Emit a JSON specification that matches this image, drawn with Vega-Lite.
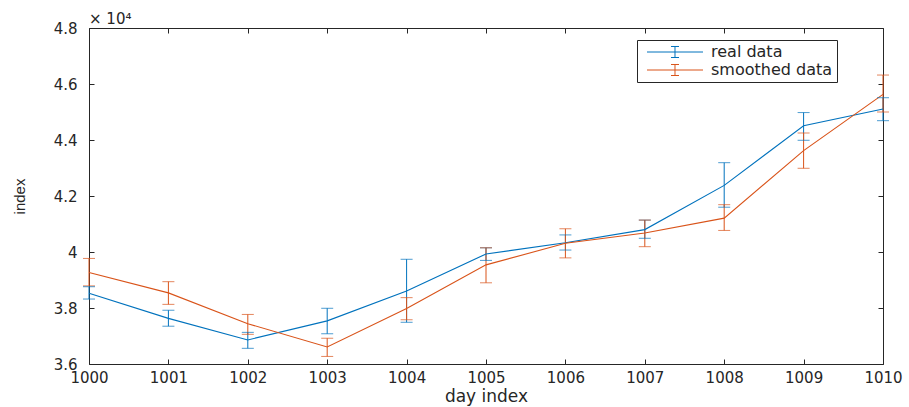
{
  "$schema": "https://vega.github.io/schema/vega-lite/v6.json",
  "autosize": "none",
  "padding": {"left": 89, "top": 28, "right": 26, "bottom": 43},
  "width": 794,
  "height": 336,
  "background": "white",
  "title": {"text": "× 10⁴", "anchor": "start", "frame": "group", "offset": -6, "fontSize": 15, "font": "DejaVu Sans", "fontWeight": "normal", "color": "#262626"},
  "config": {
    "view": {"stroke": null},
    "axis": {"domainColor": "#262626", "tickColor": "#262626", "labelColor": "#262626", "titleColor": "#262626", "grid": false, "domainWidth": 1, "tickWidth": 1, "labelFlush": false, "labelOverlap": false}
  },
  "data": {"values": [
    {"day": 1000, "series": "real data", "value": 38525, "lo": 38320, "hi": 38760},
    {"day": 1001, "series": "real data", "value": 37630, "lo": 37350, "hi": 37920},
    {"day": 1002, "series": "real data", "value": 36860, "lo": 36560, "hi": 37130},
    {"day": 1003, "series": "real data", "value": 37540, "lo": 37080, "hi": 37990},
    {"day": 1004, "series": "real data", "value": 38610, "lo": 37490, "hi": 39740},
    {"day": 1005, "series": "real data", "value": 39930, "lo": 39700, "hi": 40150},
    {"day": 1006, "series": "real data", "value": 40330, "lo": 40070, "hi": 40610},
    {"day": 1007, "series": "real data", "value": 40800, "lo": 40490, "hi": 41140},
    {"day": 1008, "series": "real data", "value": 42380, "lo": 41600, "hi": 43190},
    {"day": 1009, "series": "real data", "value": 44510, "lo": 43990, "hi": 44980},
    {"day": 1010, "series": "real data", "value": 45110, "lo": 44690, "hi": 45510},
    {"day": 1000, "series": "smoothed data", "value": 39270, "lo": 38790, "hi": 39770},
    {"day": 1001, "series": "smoothed data", "value": 38540, "lo": 38130, "hi": 38940},
    {"day": 1002, "series": "smoothed data", "value": 37440, "lo": 37060, "hi": 37770},
    {"day": 1003, "series": "smoothed data", "value": 36610, "lo": 36270, "hi": 36920},
    {"day": 1004, "series": "smoothed data", "value": 37980, "lo": 37580, "hi": 38370},
    {"day": 1005, "series": "smoothed data", "value": 39540, "lo": 38900, "hi": 40150},
    {"day": 1006, "series": "smoothed data", "value": 40310, "lo": 39790, "hi": 40830},
    {"day": 1007, "series": "smoothed data", "value": 40680, "lo": 40190, "hi": 41140},
    {"day": 1008, "series": "smoothed data", "value": 41210, "lo": 40770, "hi": 41690},
    {"day": 1009, "series": "smoothed data", "value": 43620, "lo": 42990, "hi": 44250},
    {"day": 1010, "series": "smoothed data", "value": 45630, "lo": 45000, "hi": 46320}
  ]},
  "resolve": {"axis": {"x": "independent", "y": "independent"}},
  "layer": [
    {
      "mark": {"type": "rule", "strokeWidth": 1},
      "encoding": {
        "x": {"field": "day", "type": "quantitative", "scale": {"domain": [1000, 1010], "nice": false, "zero": false},
              "axis": {"orient": "bottom", "values": [1000,1001,1002,1003,1004,1005,1006,1007,1008,1009,1010], "format": "d", "tickSize": -5, "labelPadding": 11, "labelFont": "DejaVu Sans", "labelFontSize": 15, "title": "day index", "titleFont": "DejaVu Sans", "titleFontSize": 17, "titleFontWeight": "normal", "titlePadding": 3}},
        "y": {"field": "lo", "type": "quantitative", "scale": {"domain": [36000, 48000], "nice": false, "zero": false},
              "axis": {"orient": "left", "values": [36000,38000,40000,42000,44000,46000,48000], "labelExpr": "'' + datum.value/10000", "tickSize": -5, "labelPadding": 17, "labelFont": "DejaVu Sans", "labelFontSize": 15, "title": "index", "titleFont": "Liberation Sans", "titleFontSize": 15, "titleFontWeight": "normal", "titlePadding": 26}},
        "y2": {"field": "hi"},
        "stroke": {"field": "series", "type": "nominal", "scale": {"domain": ["real data", "smoothed data"], "range": ["#0072BD", "#D95319"]},
                   "legend": {"title": null, "orient": "none", "direction": "vertical", "legendX": 548, "legendY": 12, "fillColor": "white", "strokeColor": "#262626", "padding": 4, "rowPadding": 2, "labelOffset": 54, "labelFont": "DejaVu Sans", "labelFontSize": 16, "labelColor": "#262626", "symbolType": "M-0.333,0H9M4.333,-0.917V0.917M3.667,-0.917H5M3.667,0.917H5", "symbolSize": 144, "symbolStrokeWidth": 1}}
      }
    },
    {
      "mark": {"type": "line", "strokeWidth": 1.1},
      "encoding": {
        "x": {"field": "day", "type": "quantitative",
              "axis": {"orient": "top", "values": [1000,1001,1002,1003,1004,1005,1006,1007,1008,1009,1010], "labels": false, "tickSize": -5, "title": null}},
        "y": {"field": "value", "type": "quantitative",
              "axis": {"orient": "right", "values": [36000,38000,40000,42000,44000,46000,48000], "labels": false, "tickSize": -5, "title": null}},
        "stroke": {"field": "series", "type": "nominal"}
      }
    },
    {
      "mark": {"type": "tick", "orient": "horizontal", "size": 12, "thickness": 1},
      "encoding": {
        "x": {"field": "day", "type": "quantitative", "axis": null},
        "y": {"field": "lo", "type": "quantitative", "axis": null},
        "color": {"field": "series", "type": "nominal", "legend": null}
      }
    },
    {
      "mark": {"type": "tick", "orient": "horizontal", "size": 12, "thickness": 1},
      "encoding": {
        "x": {"field": "day", "type": "quantitative", "axis": null},
        "y": {"field": "hi", "type": "quantitative", "axis": null},
        "color": {"field": "series", "type": "nominal", "scale": {"domain": ["real data", "smoothed data"], "range": ["#0072BD", "#D95319"]}, "legend": null}
      }
    }
  ]
}
